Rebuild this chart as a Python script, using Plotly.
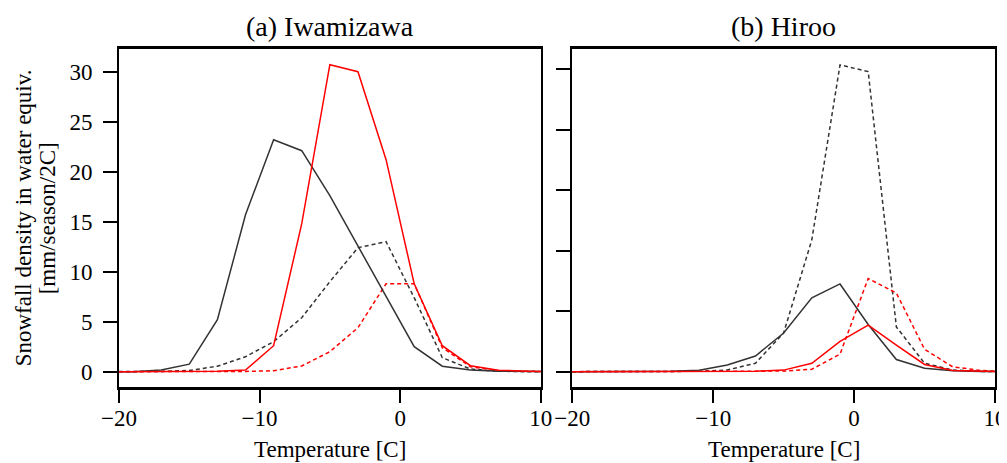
import plotly.graph_objects as go

# Temperature bin centres [C] (outer bins lie beyond the axis range and are clipped)
temp = [-21, -19, -17, -15, -13, -11, -9, -7, -5, -3, -1, 1, 3, 5, 7, 9, 11]

# (a) Iwamizawa
iwa_black_solid = [0, 0, 0.17, 0.75, 5.2, 15.7, 23.2, 22.1, 17.6, 12.6, 7.5, 2.5, 0.55, 0.17, 0.05, 0, 0]
iwa_red_solid = [0, 0, 0, 0.02, 0.05, 0.17, 2.6, 14.8, 30.7, 30.0, 21.2, 8.8, 2.6, 0.6, 0.15, 0.05, 0]
iwa_black_dash = [0, 0, 0.03, 0.12, 0.55, 1.5, 3.0, 5.4, 9.0, 12.4, 13.0, 7.4, 1.4, 0.27, 0.05, 0, 0]
iwa_red_dash = [0, 0, 0, 0, 0.01, 0.03, 0.1, 0.57, 2.0, 4.4, 8.8, 8.8, 2.4, 0.5, 0.1, 0.02, 0]

# (b) Hiroo
hir_black_solid = [0, 0, 0, 0.01, 0.03, 0.12, 0.55, 1.3, 3.2, 6.1, 7.25, 3.9, 1.0, 0.28, 0.08, 0.02, 0]
hir_red_solid = [0, 0, 0, 0, 0, 0.01, 0.02, 0.04, 0.13, 0.7, 2.5, 3.85, 2.2, 0.6, 0.1, 0.02, 0]
hir_black_dash = [0, 0, 0, 0, 0.01, 0.03, 0.14, 0.7, 3.2, 10.9, 25.35, 24.8, 3.7, 0.7, 0.14, 0.02, 0]
hir_red_dash = [0, 0, 0, 0, 0, 0, 0, 0.01, 0.05, 0.2, 1.45, 7.7, 6.5, 1.85, 0.4, 0.1, 0]

x_ticks = [-20, -10, 0, 10]
y_ticks_a = [0, 5, 10, 15, 20, 25, 30]
y_ticks_b = [0, 5, 10, 15, 20, 25]

titles = ["(a) Iwamizawa", "(b) Hiroo"]
xlabel = "Temperature [C]"
ylabel1 = "Snowfall density in water equiv."
ylabel2 = "[mm/season/2C]"

# The page body has an 8px margin; size the figure so it fills the window exactly.
OFF = 8
W, H = 1007 - OFF, 463 - OFF


def fx(px):
    return (px - OFF) / W


def fy(py):
    return 1 - (py - OFF) / H


BLACK = "#333333"
RED = "#ff0000"
DASH = "4px,3px"
FONT = "Liberation Serif"

fig = go.Figure()


def add_panel(xa, ya, bs, rs, bd, rd):
    fig.add_trace(go.Scatter(x=temp, y=bd, mode="lines", xaxis=xa, yaxis=ya,
                             line=dict(color=BLACK, width=1.5, dash=DASH)))
    fig.add_trace(go.Scatter(x=temp, y=rd, mode="lines", xaxis=xa, yaxis=ya,
                             line=dict(color=RED, width=1.5, dash=DASH)))
    fig.add_trace(go.Scatter(x=temp, y=bs, mode="lines", xaxis=xa, yaxis=ya,
                             line=dict(color=BLACK, width=1.5)))
    fig.add_trace(go.Scatter(x=temp, y=rs, mode="lines", xaxis=xa, yaxis=ya,
                             line=dict(color=RED, width=1.5)))


add_panel("x", "y", iwa_black_solid, iwa_red_solid, iwa_black_dash, iwa_red_dash)
add_panel("x2", "y2", hir_black_solid, hir_red_solid, hir_black_dash, hir_red_dash)

dom_a = [fx(119), fx(540.7)]
dom_b = [fx(572.3), fx(995)]
dom_y = [fy(387.3), fy(49.3)]

xcommon = dict(range=[-20, 10], tickvals=x_ticks, ticks="outside", ticklen=13,
               tickwidth=2, tickcolor="black", showline=True, linewidth=2.5,
               linecolor="black", mirror=True, showgrid=False, zeroline=False,
               automargin=False, ticklabelstandoff=-5,
               tickfont=dict(family=FONT, size=23, color="black"))
ycommon = dict(ticks="outside", ticklen=14, tickwidth=2, tickcolor="black",
               showline=True, linewidth=2, linecolor="black", mirror=True,
               showgrid=False, zeroline=False, domain=dom_y, automargin=False,
               tickfont=dict(family=FONT, size=23, color="black"))

fig.update_layout(
    width=W, height=H,
    margin=dict(l=0, r=0, t=0, b=0, autoexpand=False),
    paper_bgcolor="white", plot_bgcolor="white",
    showlegend=False,
    xaxis=dict(domain=dom_a, anchor="y", **xcommon),
    xaxis2=dict(domain=dom_b, anchor="y2", **xcommon),
    yaxis=dict(anchor="x", range=[-1.56, 32.24], tickvals=y_ticks_a,
               ticklabelstandoff=6, **ycommon),
    yaxis2=dict(anchor="x2", range=[-1.29, 26.64], tickvals=y_ticks_b,
                showticklabels=False, **ycommon),
)

ann_font = dict(family=FONT, size=23, color="black")
annotations = []
for dom, t in zip([dom_a, dom_b], titles):
    annotations.append(dict(text=t, x=(dom[0] + dom[1]) / 2, y=fy(27),
                            xref="paper", yref="paper", showarrow=False,
                            xanchor="center", yanchor="middle",
                            font=dict(family=FONT, size=28, color="black")))
    annotations.append(dict(text=xlabel, x=(dom[0] + dom[1]) / 2, y=fy(449),
                            xref="paper", yref="paper", showarrow=False,
                            xanchor="center", yanchor="middle", font=ann_font))
ymid = (dom_y[0] + dom_y[1]) / 2
annotations.append(dict(text=ylabel1, x=fx(23), y=ymid, xref="paper", yref="paper",
                        showarrow=False, textangle=-90, xanchor="center",
                        yanchor="middle", font=ann_font))
annotations.append(dict(text=ylabel2, x=fx(47), y=ymid, xref="paper", yref="paper",
                        showarrow=False, textangle=-90, xanchor="center",
                        yanchor="middle", font=ann_font))
fig.update_layout(annotations=annotations)

fig.write_html("out.html")
